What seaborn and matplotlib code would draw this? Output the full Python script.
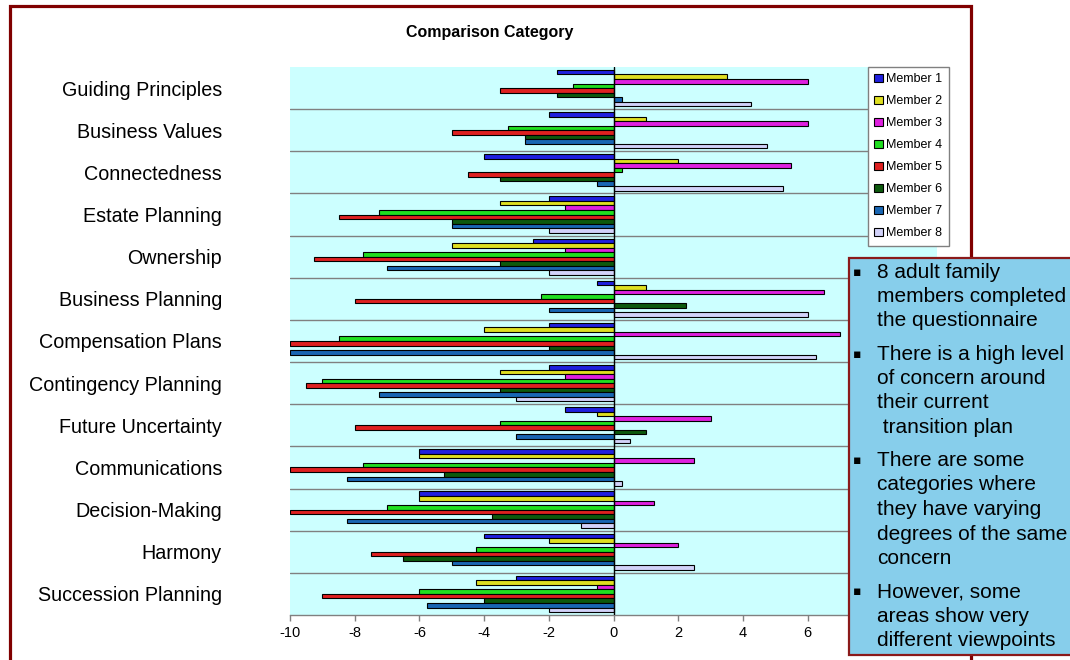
import matplotlib
matplotlib.use("Agg")
import matplotlib.pyplot as plt
import numpy as np
import pandas as pd
import seaborn as sns
from matplotlib.patches import Rectangle

# Data
categories = ["Guiding Principles", "Business Values", "Connectedness", "Estate Planning",
              "Ownership", "Business Planning", "Compensation Plans", "Contingency Planning",
              "Future Uncertainty", "Communications", "Decision-Making", "Harmony",
              "Succession Planning"]
members = ["Member 1", "Member 2", "Member 3", "Member 4",
           "Member 5", "Member 6", "Member 7", "Member 8"]

member_1 = [-1.75, -2, -4, -2, -2.5, -0.5, -2, -2, -1.5, -6, -6, -4, -3]
member_2 = [3.5, 1, 2, -3.5, -5, 1, -4, -3.5, -0.5, -6, -6, -2, -4.25]
member_3 = [6, 6, 5.5, -1.5, -1.5, 6.5, 7, -1.5, 3, 2.5, 1.25, 2, -0.5]
member_4 = [-1.25, -3.25, 0.25, -7.25, -7.75, -2.25, -8.5, -9, -3.5, -7.75, -7, -4.25, -6]
member_5 = [-3.5, -5, -4.5, -8.5, -9.25, -8, -10, -9.5, -8, -10, -10, -7.5, -9]
member_6 = [-1.75, -2.75, -3.5, -5, -3.5, 2.25, -2, -3.5, 1, -5.25, -3.75, -6.5, -4]
member_7 = [0.25, -2.75, -0.5, -5, -7, -2, -10, -7.25, -3, -8.25, -8.25, -5, -5.75]
member_8 = [4.25, 4.75, 5.25, -2, -2, 6, 6.25, -3, 0.5, 0.25, -1, 2.5, -2]

# ticks 8 and 10 sit under the notes box in the reference
x_ticks = [-10, -8, -6, -4, -2, 0, 2, 4, 6]

notes = [
    ["8 adult family", "members completed", "the questionnaire"],
    ["There is a high level", "of concern around", "their current", " transition plan"],
    ["There are some", "categories where", "they have varying", "degrees of the same", "concern"],
    ["However, some", "areas show very", "different viewpoints"],
]

member_colors = ["#0000FF", "#FFFF00", "#FF00FF", "#00FF00",
                 "#FF0000", "#006600", "#0066CC", "#CCCCFF"]

all_values = [member_1, member_2, member_3, member_4, member_5, member_6, member_7, member_8]
rows = []
for m, vals in zip(members, all_values):
    for c, v in zip(categories, vals):
        rows.append({"category": c, "member": m, "value": v})
df = pd.DataFrame(rows)

sns.set_style("white")
plt.rcParams["font.family"] = ["Liberation Sans", "DejaVu Sans"]
plt.rcParams["text.color"] = "black"
plt.rcParams["xtick.labelcolor"] = "black"
plt.rcParams["ytick.labelcolor"] = "black"

W, H = 1070, 660
fig = plt.figure(figsize=(W / 100, H / 100), dpi=100)
ax = fig.add_axes([290 / W, 1 - 615 / H, (937 - 290) / W, (615 - 67) / H])
ax.set_facecolor("#CCFFFF")

sns.barplot(data=df, x="value", y="category", hue="member", order=categories,
            hue_order=members, palette=member_colors, orient="h", width=0.86,
            edgecolor="black", linewidth=0.8, ax=ax)

ax.set_xlim(-10, 10)
ax.set_ylim(len(categories) - 0.5, -0.5)
ax.set_xticks(x_ticks)
ax.set_xticklabels([str(t) for t in x_ticks], fontsize=10.5)
ax.set_xlabel("")
ax.set_ylabel("")
ax.tick_params(axis="x", direction="out", length=4, width=1, color="#808080", pad=4,
               bottom=True, labelcolor="black")
ax.tick_params(axis="y", length=0, pad=49, labelsize=14.2, labelcolor="black")

# separators between categories
ax.set_yticks(np.arange(0.5, len(categories) - 1), minor=True)
ax.tick_params(axis="y", which="minor", length=0)
ax.grid(True, axis="y", which="minor", color="#808080", linewidth=1)
ax.grid(False, axis="x")
ax.grid(False, axis="y", which="major")
ax.set_axisbelow(True)
ax.axvline(0, color="black", linewidth=1, zorder=3)

for side in ["left", "top", "right"]:
    ax.spines[side].set_visible(False)
ax.spines["bottom"].set_color("#808080")
ax.spines["bottom"].set_linewidth(1)

# legend
handles, labels = ax.get_legend_handles_labels()
ax.legend(handles, labels, loc="upper left", bbox_to_anchor=(868 / W, 1 - 67 / H),
          bbox_transform=fig.transFigure, fontsize=9, frameon=True, fancybox=False,
          framealpha=1, edgecolor="#808080", handlelength=0.7, handleheight=0.7,
          handletextpad=0.25, labelspacing=0.8, borderpad=0.5, borderaxespad=0,
          labelcolor="black")
ax.get_legend().get_frame().set_linewidth(1)

fig.text(490 / W, 1 - 33 / H, "Comparison Category", ha="center", va="center",
         fontsize=11.5, fontweight="bold", color="black")

# outer frame
fig.patches.append(Rectangle((10 / W, -0.1), (971 - 10) / W, 1.1 - 6.5 / H,
                             transform=fig.transFigure, fill=False,
                             edgecolor="#800000", linewidth=2.3, zorder=5))

# notes box
fig.patches.append(Rectangle((849 / W, 1 - 655 / H), 0.3, (655 - 258) / H,
                             transform=fig.transFigure, facecolor="#87CEEB",
                             edgecolor="#8B1A1A", linewidth=1.6, zorder=6))

y = 272
for group in notes:
    fig.text(857 / W, 1 - y / H, "\u25aa", ha="center", va="center", fontsize=9,
             family=["DejaVu Sans"], color="black", zorder=7)
    for line in group:
        fig.text(877 / W, 1 - y / H, line, ha="left", va="center", fontsize=15,
                 color="black", zorder=7)
        y += 24.5
    y += 8.5

fig.savefig("out.png", dpi=100)
